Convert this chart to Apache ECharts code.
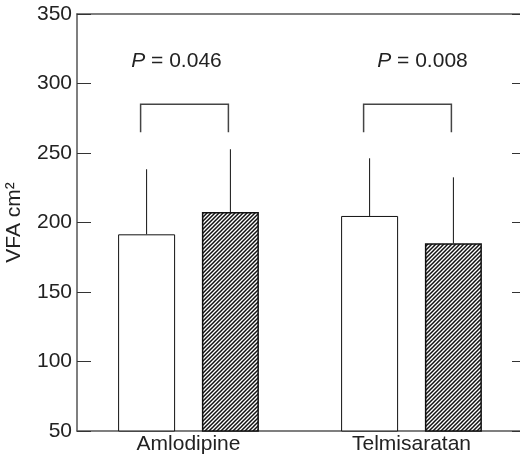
<!DOCTYPE html>
<html>
<head>
<meta charset="utf-8">
<script src="https://cdn.jsdelivr.net/npm/echarts@6/dist/echarts.min.js"></script>
<style>
  html, body { margin: 0; padding: 0; background: #fff; }
  #chart { width: 520px; height: 455px; }
</style>
</head>
<body>
<div id="chart"></div>
<script>
var categories = ['Amlodipine', 'Telmisaratan']
var meanBefore = [191.5, 204.7]
var meanAfter = [207.5, 185]
var upperBefore = [238.3, 246.2]
var upperAfter = [252.7, 232.5]
var pValues = ['0.046', '0.008']
var bracketTop = [285, 285]
var bracketFoot = [265, 265]
var pLabelY = [316, 316]

var FONT = 'Liberation Sans'
var FS = 21
var BAR_W = 57
var GAP = 0.47
var HALF = BAR_W * (1 + GAP) / 2 // distance from category centre to each bar centre

function hatch() {
  var c = document.createElement('canvas')
  c.width = 4
  c.height = 4
  var g = c.getContext('2d')
  g.fillStyle = '#fff'
  g.fillRect(0, 0, 4, 4)
  g.strokeStyle = '#111'
  g.lineWidth = 1.5
  g.beginPath()
  g.moveTo(-1, 5); g.lineTo(5, -1)
  g.moveTo(-1, 1); g.lineTo(1, -1)
  g.moveTo(3, 5); g.lineTo(5, 3)
  g.stroke()
  return c
}

var errData = []
categories.forEach(function(c, i) {
  errData.push([i, meanBefore[i], upperBefore[i], -1])
  errData.push([i, meanAfter[i], upperAfter[i], 1])
})
var noteData = categories.map(function(c, i) {
  return [i, bracketTop[i], bracketFoot[i], pLabelY[i]]
})

var chart = echarts.init(document.getElementById('chart'))
chart.setOption({
  animation: false,
  grid: { left: 77, right: -3, top: 14, bottom: 24, containLabel: false, outerBoundsMode: 'none' },
  xAxis: [
    {
      type: 'category',
      data: categories,
      axisLine: { lineStyle: { color: '#555', width: 1.5 } },
      axisTick: { show: false },
      axisLabel: { color: '#222', fontSize: FS, fontFamily: FONT, margin: 3 }
    },
    {
      type: 'category',
      position: 'top',
      data: categories,
      axisLine: { lineStyle: { color: '#555', width: 1.5 } },
      axisTick: { inside: true, alignWithLabel: true, length: 10, lineStyle: { color: '#333' } },
      axisLabel: { show: false }
    }
  ],
  yAxis: [
    {
      type: 'value',
      min: 50,
      max: 350,
      interval: 50,
      name: 'VFA cm²',
      nameLocation: 'middle',
      nameGap: 52,
      nameTextStyle: { color: '#222', fontSize: FS, fontFamily: FONT },
      axisLine: { show: true, lineStyle: { color: '#555', width: 1.5 } },
      axisTick: { show: true, inside: true, length: 14, lineStyle: { color: '#333' } },
      axisLabel: { color: '#222', fontSize: FS, fontFamily: FONT, margin: 5 },
      splitLine: { show: false }
    },
    {
      type: 'value',
      position: 'right',
      min: 50,
      max: 350,
      interval: 50,
      axisLine: { show: true, lineStyle: { color: '#555', width: 1.5 } },
      axisTick: { show: true, inside: true, length: 11, lineStyle: { color: '#333' } },
      axisLabel: { show: false },
      splitLine: { show: false }
    }
  ],
  series: [
    {
      type: 'bar',
      data: meanBefore,
      barWidth: BAR_W,
      barGap: (GAP * 100) + '%',
      itemStyle: { color: '#fff', borderColor: '#111', borderWidth: 1 }
    },
    {
      type: 'bar',
      data: meanAfter,
      barWidth: BAR_W,
      itemStyle: { color: { image: hatch(), repeat: 'repeat' }, borderColor: '#111', borderWidth: 1.5 }
    },
    {
      type: 'custom',
      data: errData,
      z: 1,
      renderItem: function(params, api) {
        var p0 = api.coord([api.value(0), api.value(1)])
        var p1 = api.coord([api.value(0), api.value(2)])
        var x = p0[0] + api.value(3) * HALF
        return {
          type: 'line',
          shape: { x1: x, y1: p0[1], x2: x, y2: p1[1] },
          style: { stroke: '#111', lineWidth: 1 }
        }
      }
    },
    {
      type: 'custom',
      data: noteData,
      renderItem: function(params, api) {
        var i = api.value(0)
        var top = api.coord([i, api.value(1)])
        var foot = api.coord([i, api.value(2)])
        var lab = api.coord([i, api.value(3)])
        var xl = top[0] - HALF - 6
        var xr = top[0] + HALF - 2
        var shift = i === 0 ? -12 : 11
        return {
          type: 'group',
          children: [
            {
              type: 'polyline',
              shape: { points: [[xl, foot[1]], [xl, top[1]], [xr, top[1]], [xr, foot[1]]] },
              style: { stroke: '#444', lineWidth: 1.5, fill: null }
            },
            {
              type: 'text',
              style: {
                text: '{i|P} = ' + pValues[i],
                x: lab[0] + shift,
                y: lab[1],
                align: 'center',
                verticalAlign: 'middle',
                fontSize: FS,
                fontFamily: FONT,
                fill: '#222',
                rich: { i: { fontStyle: 'italic', fontSize: FS, fontFamily: FONT, fill: '#222' } }
              }
            }
          ]
        }
      }
    }
  ]
})
</script>
</body>
</html>
